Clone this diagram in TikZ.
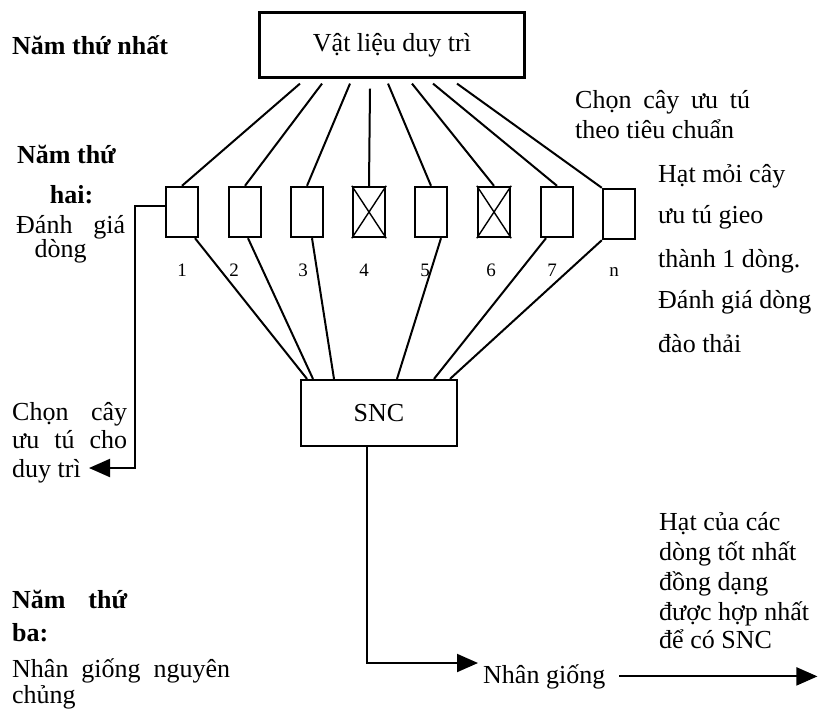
\documentclass[tikz,border=0pt]{standalone}
\usepackage{fontspec}
\setmainfont{Liberation Serif}
\usetikzlibrary{arrows.meta,calc}
\begin{document}
\begin{tikzpicture}[x=1pt,y=-1pt,
  lbl/.style={inner sep=0pt, font=\fontsize{26}{30}\selectfont},
  lblb/.style={inner sep=0pt, font=\fontsize{26}{30}\selectfont\bfseries},
  num/.style={inner sep=0pt, font=\fontsize{19}{22}\selectfont},
  bigbox/.style={draw, line width=2.2pt, inner sep=0pt, font=\fontsize{26}{30}\selectfont},
  linebox/.style={draw, line width=2.4pt, minimum width=32pt, minimum height=50pt, inner sep=0pt},
  conn/.style={line width=2pt},
  arr/.style={conn, -{Triangle[length=21pt,width=18pt]}},
  cross/.style={line width=1.4pt}
]
\path[use as bounding box] (0,0) rectangle (824,710);

% main boxes
\node[bigbox, minimum width=265pt, minimum height=65pt] (top) at (392,45) {Vật liệu duy trì};
\node[bigbox, minimum width=156pt, minimum height=66pt] (snc) at (379,413) {SNC};

% line boxes
\foreach \i/\x in {1/182,2/245,3/307,4/369,5/431,6/494,7/557}
  \node[linebox] (b\i) at (\x,212) {};
\node[linebox] (bn) at (619,214) {};
\draw[cross] (b4.north west) -- (b4.south east) (b4.north east) -- (b4.south west);
\draw[cross] (b6.north west) -- (b6.south east) (b6.north east) -- (b6.south west);

% numbers
\foreach \i/\x in {1/182,2/234,3/303,4/364,5/425,6/491,7/552,n/614}
  \node[num, anchor=base] (l\i) at (\x,276) {\i};

% connectors from top box
\draw[conn] ($(top.south)+(-92,5)$) -- (b1.north);
\draw[conn] ($(top.south)+(-70,5)$) -- (b2.north);
\draw[conn] ($(top.south)+(-42,5)$) -- (b3.north);
\draw[conn] ($(top.south)+(-22,10)$) -- (b4.north);
\draw[conn] ($(top.south)+(-4,5)$) -- (b5.north);
\draw[conn] ($(top.south)+(20,5)$) -- (b6.north);
\draw[conn] ($(top.south)+(41,5)$) -- (b7.north);
\draw[conn] ($(top.south)+(65,5)$) -- (bn.north west);

% connectors to SNC
\draw[conn] ($(b1.south)+(13,0)$) -- ($(snc.north)+(-72,0)$);
\draw[conn] ($(b2.south)+(3,0)$) -- ($(snc.north)+(-66,0)$);
\draw[conn] ($(b3.south)+(5,0)$) -- ($(snc.north)+(-45,0)$);
\draw[conn] ($(b5.south)+(10,0)$) -- ($(snc.north)+(18,0)$);
\draw[conn] ($(b7.south)+(-11,0)$) -- ($(snc.north)+(55,0)$);
\draw[conn] (bn.south west) -- ($(snc.north)+(71,0)$);

% feedback arrow
\coordinate (fbend) at (89,468);
\draw[arr] ($(b1.west)+(0,-6)$) -- ++(-30,0) |- (fbend);

% SNC to multiplication
\node[lbl, anchor=base west] (nhan) at (483,683) {Nhân giống};
\coordinate (nhin) at (478,663);
\draw[arr] ($(snc.south)+(-12,0)$) |- (nhin);
\draw[arr] ($(nhan.east)+(14,0)$) -- ++(198,0);

% left texts
\node[lblb, anchor=base west] (y1) at (12,54) {Năm thứ nhất};

\node[lblb, anchor=base] (y2a) at (66.5,163) {Năm thứ};
\node[lblb, anchor=base] (y2b) at (71.5,203) {hai:};
\node[lbl, anchor=base west] (y2c) at (16,233) {\makebox[109pt][s]{Đánh giá}};
\node[lbl, anchor=base] (y2d) at (60.5,257) {dòng};

\node[lbl, anchor=base west] (c1) at (12,420) {\makebox[115pt][s]{Chọn cây}};
\node[lbl, anchor=base west] (c2) at (12,448) {\makebox[115pt][s]{ưu tú cho}};
\node[lbl, anchor=base west] (c3) at (12,477) {duy trì};

\node[lblb, anchor=base west] (y3a) at (12,608) {\makebox[115pt][s]{Năm thứ}};
\node[lblb, anchor=base west] (y3b) at (12,641) {ba:};
\node[lbl, anchor=base west] (y3c) at (12,677) {\makebox[218pt][s]{Nhân giống nguyên}};
\node[lbl, anchor=base west] (y3d) at (12,703) {chủng};

% right texts
\node[lbl, anchor=base west] (r1) at (575,108) {\makebox[175pt][s]{Chọn cây ưu tú}};
\node[lbl, anchor=base west] (r2) at (575,138) {theo tiêu chuẩn};

\node[lbl, anchor=base west] (h1) at (658,182) {Hạt mỏi cây};
\node[lbl, anchor=base west] (h2) at (658,223) {ưu tú gieo};
\node[lbl, anchor=base west] (h3) at (658,267) {thành 1 dòng.};
\node[lbl, anchor=base west] (h4) at (658,308) {Đánh giá dòng};
\node[lbl, anchor=base west] (h5) at (658,352) {đào thải};

\node[lbl, anchor=base west] (s1) at (659,530) {Hạt của các};
\node[lbl, anchor=base west] (s2) at (659,560) {dòng tốt nhất};
\node[lbl, anchor=base west] (s3) at (659,590) {đồng dạng};
\node[lbl, anchor=base west] (s4) at (659,620) {được hợp nhất};
\node[lbl, anchor=base west] (s5) at (659,648) {để có SNC};
\end{tikzpicture}
\end{document}
